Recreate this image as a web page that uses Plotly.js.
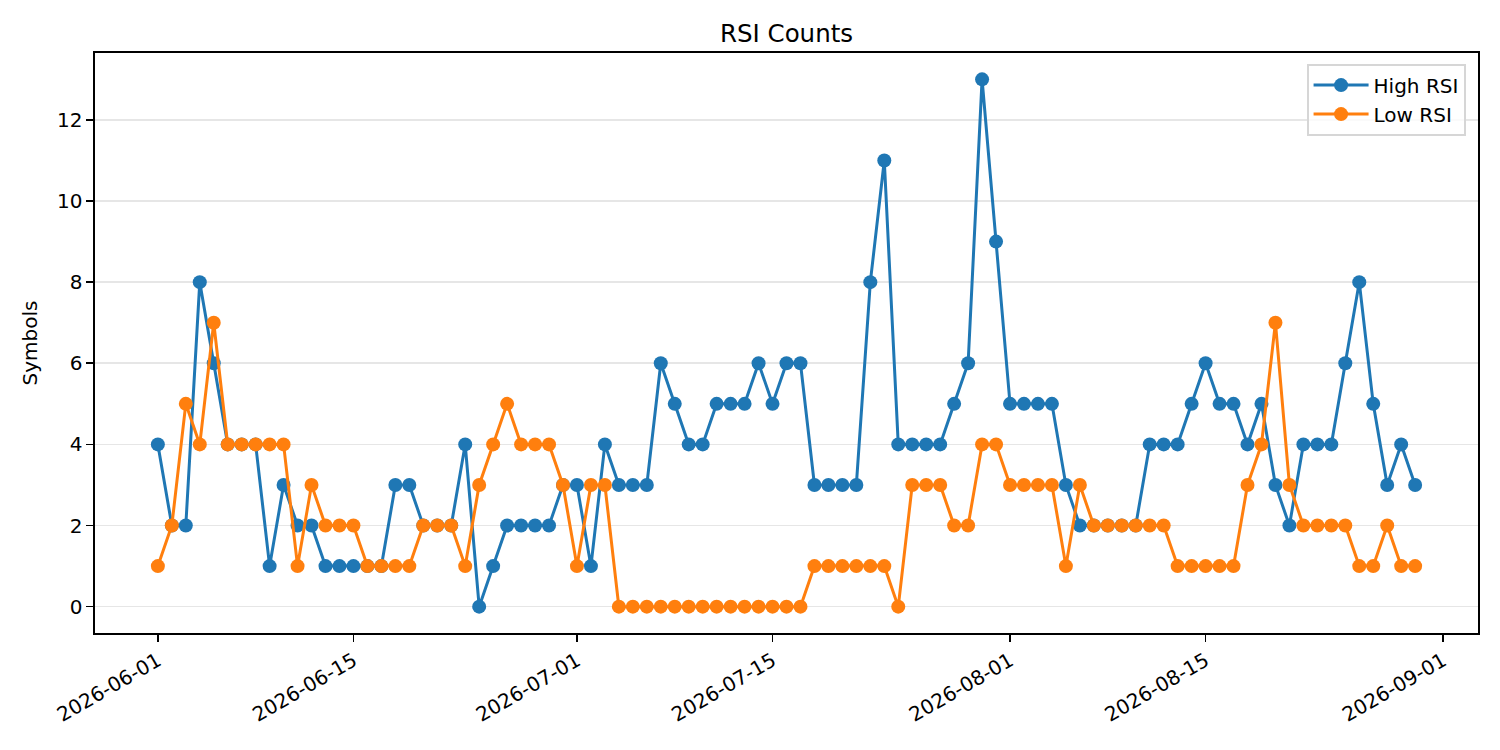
<!DOCTYPE html>
<html>
<head>
<meta charset="utf-8">
<script src="https://cdn.plot.ly/plotly-3.0.1.min.js"></script>
<style>
  html, body { margin: 0; padding: 0; background: #fff; }
  #graph { width: 1500px; height: 750px; }
</style>
</head>
<body>
<div id="graph"></div>
<script>
// one row per day, 2026-06-01 .. 2026-08-30
const startDate = '2026-06-01';
const dayCount = 91;

const highRsi = [
  4, 2, 2, 8, 6, 4, 4, 4, 1, 3,
  2, 2, 1, 1, 1, 1, 1, 3, 3, 2,
  2, 2, 4, 0, 1, 2, 2, 2, 2, 3,
  3, 1, 4, 3, 3, 3, 6, 5, 4, 4,
  5, 5, 5, 6, 5, 6, 6, 3, 3, 3,
  3, 8, 11, 4, 4, 4, 4, 5, 6, 13,
  9, 5, 5, 5, 5, 3, 2, 2, 2, 2,
  2, 4, 4, 4, 5, 6, 5, 5, 4, 5,
  3, 2, 4, 4, 4, 6, 8, 5, 3, 4,
  3
];

const lowRsi = [
  1, 2, 5, 4, 7, 4, 4, 4, 4, 4,
  1, 3, 2, 2, 2, 1, 1, 1, 1, 2,
  2, 2, 1, 3, 4, 5, 4, 4, 4, 3,
  1, 3, 3, 0, 0, 0, 0, 0, 0, 0,
  0, 0, 0, 0, 0, 0, 0, 1, 1, 1,
  1, 1, 1, 0, 3, 3, 3, 2, 2, 4,
  4, 3, 3, 3, 3, 1, 3, 2, 2, 2,
  2, 2, 2, 1, 1, 1, 1, 1, 3, 4,
  7, 3, 2, 2, 2, 2, 1, 1, 2, 1,
  1
];

const tickDates = ['2026-06-01', '2026-06-15', '2026-07-01', '2026-07-15',
                   '2026-08-01', '2026-08-15', '2026-09-01'];

function buildDates(start, n) {
  let out = [];
  let d = new Date(start + 'T00:00:00Z');
  for (let i = 0; i < n; i++) {
    out.push(d.toISOString().slice(0, 10));
    d.setUTCDate(d.getUTCDate() + 1);
  }
  return out;
}

const dates = buildDates(startDate, dayCount);

function plot() {
  const font = 'DejaVu Sans, sans-serif';
  const trace1 = {
    x: dates,
    y: highRsi,
    mode: 'lines+markers',
    name: 'High RSI',
    line: { color: '#1f77b4', width: 3 },
    marker: { size: 14, color: '#1f77b4' }
  };
  const trace2 = {
    x: dates,
    y: lowRsi,
    mode: 'lines+markers',
    name: 'Low RSI',
    line: { color: '#ff7f0e', width: 3 },
    marker: { size: 14, color: '#ff7f0e' }
  };

  const axisCommon = {
    showline: true,
    mirror: true,
    linecolor: '#000',
    linewidth: 1.6,
    ticks: 'outside',
    ticklen: 7,
    tickwidth: 1.6,
    tickcolor: '#000',
    zeroline: false,
    tickfont: { family: font, size: 20, color: '#000' }
  };

  const layout = {
    width: 1500,
    height: 750,
    paper_bgcolor: '#fff',
    plot_bgcolor: '#fff',
    font: { family: font, size: 20, color: '#000' },
    margin: { l: 95, r: 22, t: 53, b: 117, pad: 0 },
    title: {
      text: 'RSI Counts',
      font: { family: font, size: 24.5, color: '#000' },
      x: 0.5, xref: 'paper',
      y: 1 - 33 / 750, yanchor: 'middle'
    },
    xaxis: Object.assign({}, axisCommon, {
      type: 'date',
      range: ['2026-05-27 12:00', '2026-09-03 12:00'],
      tickmode: 'array',
      tickvals: tickDates,
      ticktext: tickDates,
      tickangle: -30,
      showgrid: false
    }),
    yaxis: Object.assign({}, axisCommon, {
      range: [-0.65, 13.65],
      tickmode: 'linear',
      tick0: 0,
      dtick: 2,
      showgrid: true,
      gridcolor: '#e6e6e6',
      gridwidth: 1.6,
      title: { text: 'Symbols', font: { family: font, size: 20, color: '#000' }, standoff: 14 }
    }),
    legend: {
      x: 0.9913, y: 0.981,
      xanchor: 'right', yanchor: 'top',
      bgcolor: 'rgba(255,255,255,0.8)',
      bordercolor: '#d6d6d6',
      borderwidth: 1.6,
      itemwidth: 55,
      font: { family: font, size: 20, color: '#000' },
      orientation: 'v'
    },
    showlegend: true
  };
  Plotly.newPlot('graph', [trace1, trace2], layout, { displayModeBar: false, staticPlot: true });
}

plot();
</script>
</body>
</html>
